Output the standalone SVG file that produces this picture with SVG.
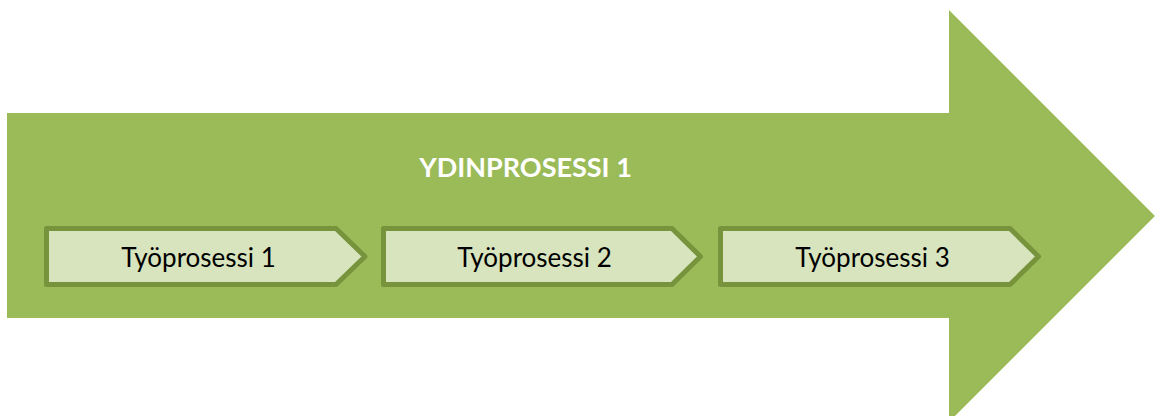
<svg xmlns="http://www.w3.org/2000/svg" width="1160" height="416" viewBox="0 0 1160 416">
  <style>
    .main { fill: #9bbb59; }
    .step { fill: #d7e4bd; stroke: #77933c; stroke-width: 5; stroke-linejoin: round; }
    .title { font-family: Lato, "Liberation Sans", Arial, sans-serif; font-weight: bold; font-size: 27px; fill: #ffffff; text-anchor: middle; }
    .label { font-family: Lato, "Liberation Sans", Arial, sans-serif; font-size: 26px; fill: #000000; text-anchor: middle; }
  </style>
  <rect width="1160" height="416" fill="#ffffff"/>

  <!-- Core process arrow -->
  <g id="core-process">
    <path class="main" d="M7,113 L949,113 L949,10 L1155,216 L949,422 L949,318 L7,318 Z"/>
    <text class="title" x="525.5" y="177">YDINPROSESSI 1</text>
  </g>

  <!-- Work process chevrons -->
  <g id="step-1">
    <path class="step" d="M46.5,228.5 L336,228.5 L365,256.5 L336,284.5 L46.5,284.5 Z"/>
    <text class="label" x="198.5" y="267">Työprosessi 1</text>
  </g>
  <g id="step-2">
    <path class="step" d="M383.5,228.5 L672,228.5 L700.5,256.5 L672,284.5 L383.5,284.5 Z"/>
    <text class="label" x="534.5" y="267">Työprosessi 2</text>
  </g>
  <g id="step-3">
    <path class="step" d="M720.5,228.5 L1010,228.5 L1038.5,256.5 L1010,284.5 L720.5,284.5 Z"/>
    <text class="label" x="872.5" y="267">Työprosessi 3</text>
  </g>

  <g id="connectors"/>
</svg>
